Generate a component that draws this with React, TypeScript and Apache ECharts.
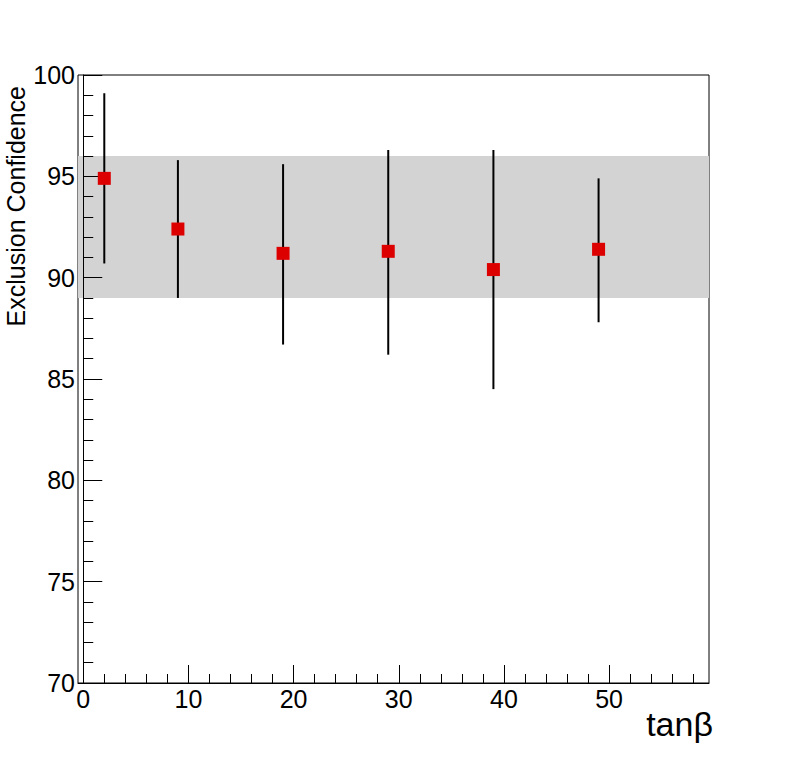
import React, { useEffect, useRef } from "react";
import * as echarts from "echarts";

const tanBeta = [2, 9, 19, 29, 39, 49];
const confidence = [94.9, 92.4, 91.2, 91.3, 90.4, 91.4];
const errLow = [90.7, 89.0, 86.7, 86.2, 84.5, 87.8];
const errHigh = [99.1, 95.8, 95.6, 96.3, 96.3, 94.9];
const band = [89, 96];
const xMajorTicks = [0, 10, 20, 30, 40, 50];
const xMinorTicks = [0, 2, 4, 6, 8, 10, 12, 14, 16, 18, 20, 22, 24, 26, 28, 30, 32, 34, 36, 38, 40, 42, 44, 46, 48, 50, 52, 54, 56, 58];

const FONT = "Liberation Sans";

export default function App() {
  const ref = useRef<HTMLDivElement>(null);
  useEffect(() => {
    if (!ref.current) return;
    const chart = echarts.init(ref.current, undefined, { renderer: "svg" });
    const axisLine = { show: true, lineStyle: { color: "#000", width: 1 } };
    chart.setOption({
      animation: false,
      backgroundColor: "#fff",
      grid: {
        left: 78,
        top: 75,
        width: 631,
        height: 608,
        show: true,
        borderColor: "#000",
        borderWidth: 1,
        backgroundColor: "transparent",
      },
      xAxis: [
        {
          type: "value",
          min: -0.5,
          max: 59.5,
          position: "bottom",
          z: 3,
          axisLine,
          splitLine: { show: false },
          axisTick: { show: true, inside: true, length: 18, customValues: xMajorTicks, lineStyle: { color: "#000", width: 1 } },
          axisLabel: { show: true, customValues: xMajorTicks, fontSize: 25, color: "#000", fontFamily: FONT, margin: 3 },
        },
        {
          type: "value",
          min: -0.5,
          max: 59.5,
          position: "bottom",
          z: 3,
          axisLine: { show: false },
          splitLine: { show: false },
          axisTick: { show: true, inside: true, length: 9, customValues: xMinorTicks, lineStyle: { color: "#000", width: 1 } },
          axisLabel: { show: false },
        },
      ],
      yAxis: {
        type: "value",
        min: 70,
        max: 100,
        interval: 5,
        z: 3,
        axisLine,
        splitLine: { show: false },
        axisTick: { show: true, inside: true, length: 19, lineStyle: { color: "#000", width: 1 } },
        minorTick: { show: true, splitNumber: 5, length: 10, lineStyle: { color: "#000", width: 1 } },
        axisLabel: { fontSize: 25, color: "#000", fontFamily: FONT, margin: 3 },
      },
      graphic: [
        {
          type: "text",
          x: 16,
          y: 86,
          rotation: Math.PI / 2,
          style: {
            text: "Exclusion Confidence",
            fontSize: 25,
            fontFamily: FONT,
            fill: "#000",
            align: "right",
            verticalAlign: "middle",
          },
        },
        {
          type: "text",
          x: 713,
          y: 724,
          style: {
            text: "tanβ",
            fontSize: 34,
            fontFamily: FONT,
            fill: "#000",
            align: "right",
            verticalAlign: "middle",
          },
        },
      ],
      series: [
        {
          type: "custom",
          z: 1,
          silent: true,
          data: [band],
          encode: { y: [0, 1] },
          renderItem: (params: any, api: any) => {
            const cs = params.coordSys;
            const top = api.coord([0, api.value(1)]);
            const bot = api.coord([0, api.value(0)]);
            return {
              type: "rect",
              shape: { x: cs.x, y: top[1], width: cs.width, height: bot[1] - top[1] },
              style: { fill: "#d3d3d3" },
            };
          },
        },
        {
          type: "custom",
          z: 4,
          silent: true,
          data: tanBeta.map((x, i) => [x, errLow[i], errHigh[i]]),
          encode: { x: 0, y: [1, 2] },
          renderItem: (params: any, api: any) => {
            const x = api.value(0);
            const lo = api.coord([x, api.value(1)]);
            const hi = api.coord([x, api.value(2)]);
            return {
              type: "line",
              shape: { x1: lo[0], y1: lo[1], x2: hi[0], y2: hi[1] },
              style: { stroke: "#000", lineWidth: 2 },
            };
          },
        },
        {
          type: "scatter",
          z: 5,
          symbol: "rect",
          symbolSize: 13,
          itemStyle: { color: "#dd0000", opacity: 1 },
          data: tanBeta.map((x, i) => [x, confidence[i]]),
        },
      ],
    });
    return () => chart.dispose();
  }, []);
  return (
    <div
      ref={ref}
      style={{ position: "absolute", left: 0, top: 0, width: 788, height: 759 }}
    />
  );
}
